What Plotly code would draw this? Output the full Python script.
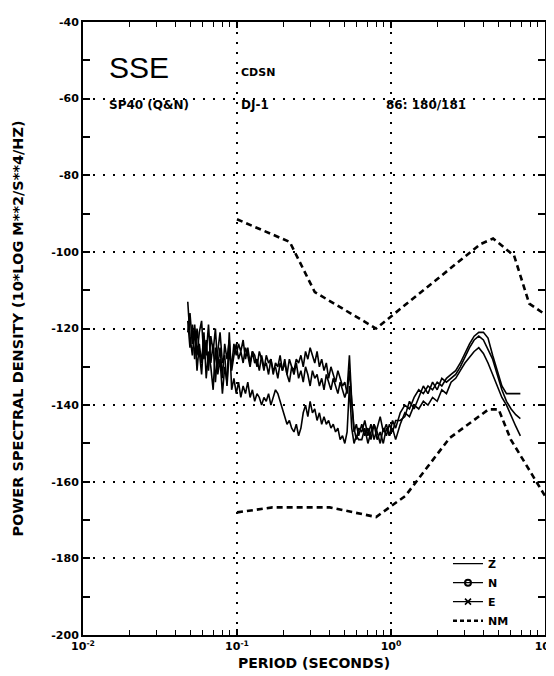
import plotly.graph_objects as go

# ---------------- data ----------------
period = [
    0.0479, 0.0495, 0.0513, 0.0531, 0.0550, 0.0569, 0.0589, 0.0610, 0.0631, 0.0653,
    0.0676, 0.0700, 0.0724, 0.0750, 0.0776, 0.0804, 0.0832, 0.0861, 0.0891, 0.0923,
    0.0955, 0.0989, 0.1023, 0.1059, 0.1096, 0.1135, 0.1175, 0.1216, 0.1259, 0.1303,
    0.1349, 0.1396, 0.1445, 0.1496, 0.1549, 0.1603, 0.1660, 0.1718, 0.1778, 0.1841,
    0.1905, 0.1972, 0.2042, 0.2113, 0.2188, 0.2265, 0.2344, 0.2427, 0.2512, 0.2600,
    0.2692, 0.2786, 0.2884, 0.2985, 0.3090, 0.3199, 0.3311, 0.3428, 0.3548, 0.3673,
    0.3802, 0.3936, 0.4074, 0.4217, 0.4365, 0.4519, 0.4677, 0.4842, 0.5012, 0.5188,
    0.5370, 0.5559, 0.5754, 0.5957, 0.6166,
    0.646, 0.676, 0.708, 0.741, 0.776, 0.813, 0.851, 0.891, 0.933, 0.977, 1.023, 1.072,
    1.148, 1.230, 1.318, 1.413, 1.514, 1.622, 1.738, 1.862, 1.995, 2.138, 2.291, 2.455,
    2.630, 2.818, 3.020, 3.236, 3.467, 3.715, 3.981, 4.266, 4.571, 4.898, 5.248, 5.623,
    6.026, 6.457, 6.918,
]

z_db = [
    -121, -116, -124, -119, -127, -121, -118, -128, -123, -131,
    -122, -126, -120, -130, -125, -133, -124, -128, -123, -131, -127,
    -124, -128, -126, -129, -125, -127, -130, -126, -129, -128,
    -131, -127, -130, -129, -132, -128, -131, -130, -133, -129,
    -131, -128, -132, -134, -130, -132, -129, -133, -131, -134,
    -130, -132, -135, -131, -133, -132, -135, -133, -136, -132,
    -134, -136, -133, -135, -137, -134, -136, -138, -136, -127,
    -139, -146, -149, -146,
    -147, -144, -148, -145, -149, -146, -143, -147, -145, -148, -144, -146,
    -142, -140, -141, -138, -136, -137, -135, -136, -134, -135, -133, -132,
    -131, -129, -126.5, -124, -122, -121, -121, -122.5, -127, -131, -135, -137,
    -137, -137, -137,
]

n_db = [
    -118, -125, -119, -128, -120, -126, -132, -122, -127, -119,
    -129, -124, -134, -126, -121, -129, -127, -135, -126, -130, -124,
    -127, -124, -126, -123, -128, -125, -129, -126, -127, -130,
    -126, -128, -131, -127, -129, -128, -132, -129, -130, -127,
    -131, -129, -132, -128, -130, -131, -128, -129, -127, -130,
    -126, -128, -125, -127, -129, -126, -130, -128, -131, -129,
    -133, -130, -132, -134, -131, -133, -135, -134, -137, -131,
    -140, -147, -145, -148,
    -145, -148, -146, -149, -145, -147, -150, -146, -148, -145, -147, -144,
    -144, -143, -139, -141, -138, -135, -137, -134, -136, -133, -134, -133,
    -132, -130, -127.5, -125, -123, -122, -123, -125.5, -128, -132, -136, -139,
    -141, -142.5, -143.5,
]

e_db = [
    -113, -122, -127, -120, -131, -124, -129, -121, -133, -126,
    -130, -136, -125, -132, -128, -137, -130, -134, -121, -136, -133,
    -137, -134, -138, -135, -137, -134, -138, -136, -139, -137,
    -138, -140, -138, -139, -137, -140, -138, -136, -137, -139,
    -141, -143, -145, -144, -146, -147, -145, -148, -146, -142,
    -140, -143, -139, -142, -141, -144, -142, -145, -143, -145,
    -144, -146, -145, -147, -146, -149, -148, -150, -147, -135,
    -146, -150, -148, -149,
    -149, -146, -150, -147, -145, -149, -147, -150, -146, -148, -146, -149,
    -145, -142, -143, -140, -141, -139, -140, -138, -139, -136, -137, -134,
    -133, -131, -129, -127.5, -126, -125, -126.5, -129, -132, -135, -138, -140,
    -143, -145.5, -148,
]

nhnm_period = [0.1, 0.22, 0.32, 0.8, 3.8, 4.6, 6.3, 7.9, 10.0]
nhnm_db = [-91.5, -97.4, -110.5, -120.0, -98.0, -96.5, -101.0, -113.5, -116.3]

nlnm_period = [0.1, 0.17, 0.4, 0.8, 1.24, 2.4, 4.3, 5.0, 6.0, 10.0]
nlnm_db = [-168.0, -166.7, -166.7, -169.2, -163.7, -148.6, -141.1, -141.1, -149.0, -163.7]

y_ticks = [-40, -60, -80, -100, -120, -140, -160, -180, -200]
y_ticktext = ["-40", "-60", "-80", "-100", "-120", "-140", "-160", "-180", "-200"]
x_ticks = [0.01, 0.1, 1, 10]
x_ticktext = ["10<sup>-2</sup>", "10<sup>-1</sup>", "10<sup>0</sup>", "10<sup>1</sup>"]
x_minor = [m * d for d in (0.01, 0.1, 1) for m in range(2, 10)]
y_minor = list(range(-50, -200, -20))

FONT = "DejaVu Sans"
BLACK = "#000000"

fig = go.Figure()

for yv in (z_db, n_db, e_db):
    fig.add_trace(go.Scatter(x=period, y=yv, mode="lines",
                             line=dict(color=BLACK, width=1.6),
                             showlegend=False, hoverinfo="skip"))

for px_, py_ in ((nhnm_period, nhnm_db), (nlnm_period, nlnm_db)):
    fig.add_trace(go.Scatter(x=px_, y=py_, mode="lines",
                             line=dict(color=BLACK, width=2.6, dash="6px,4px"),
                             showlegend=False, hoverinfo="skip"))

# legend entries
fig.add_trace(go.Scatter(x=[None], y=[None], mode="lines", name="Z",
                         line=dict(color=BLACK, width=1.2)))
fig.add_trace(go.Scatter(x=[None], y=[None], mode="lines+markers", name="N",
                         line=dict(color=BLACK, width=1.2),
                         marker=dict(symbol="circle-open", size=6, color=BLACK,
                                     line=dict(width=2, color=BLACK))))
fig.add_trace(go.Scatter(x=[None], y=[None], mode="lines+markers", name="E",
                         line=dict(color=BLACK, width=1.2),
                         marker=dict(symbol="x-thin-open", size=6, color=BLACK,
                                     line=dict(width=1.6, color=BLACK))))
fig.add_trace(go.Scatter(x=[None], y=[None], mode="lines", name="NM",
                         line=dict(color=BLACK, width=2.4, dash="4px,3px")))

# text inside the plot
texts = [
    ("SSE", 0.052, 0.925, dict(family="Liberation Sans", size=30, color=BLACK)),
    ("CDSN", 0.338, 0.917, dict(family=FONT, size=11, color=BLACK, weight="bold")),
    ("SP40 (Q&N)", 0.052, 0.865, dict(family=FONT, size=12, color=BLACK, weight="bold")),
    ("DJ-1", 0.338, 0.865, dict(family=FONT, size=12, color=BLACK, weight="bold")),
    ("86: 180/181", 0.652, 0.865, dict(family=FONT, size=12, color=BLACK, weight="bold")),
]
for t, xx, yy, f in texts:
    fig.add_annotation(text=t, x=xx, y=yy, xref="paper", yref="paper",
                       xanchor="left", yanchor="middle", showarrow=False, font=f)

axis_common = dict(
    showline=True, linewidth=2, linecolor=BLACK, mirror="ticks",
    ticks="inside", tickcolor=BLACK, tickwidth=1.5,
    showgrid=True, gridcolor=BLACK, gridwidth=2, griddash="2px,8px",
    zeroline=False, automargin=False,
    tickfont=dict(family=FONT, size=11, color=BLACK, weight="bold"),
)

fig.update_xaxes(
    type="log", range=[-2, 1], tickvals=x_ticks, ticktext=x_ticktext, ticklen=6,
    minor=dict(tickvals=x_minor, ticks="inside", ticklen=5, tickcolor=BLACK,
               tickwidth=1.2, showgrid=False),
    title=dict(text="PERIOD (SECONDS)", standoff=6,
               font=dict(family=FONT, size=14, color=BLACK, weight="bold")),
    **axis_common,
)
fig.update_yaxes(
    range=[-200, -40], tickvals=y_ticks, ticktext=y_ticktext, ticklen=7,
    minor=dict(tickvals=y_minor, ticks="inside", ticklen=7, tickcolor=BLACK,
               tickwidth=1.5, showgrid=False),
    title=dict(text="POWER SPECTRAL DENSITY (10*LOG M**2/S**4/HZ)", standoff=24,
               font=dict(family=FONT, size=14.5, color=BLACK, weight="bold")),
    **axis_common,
)

fig.update_layout(
    width=554, height=676,
    margin=dict(l=75, r=17, t=14, b=49),
    paper_bgcolor="white", plot_bgcolor="white",
    legend=dict(x=0.79, y=0.14, xanchor="left", yanchor="top",
                bgcolor="rgba(0,0,0,0)", font=dict(family=FONT, size=11, color=BLACK, weight="bold"),
                itemwidth=30, tracegroupgap=0),
)

fig.write_html("out.html")
